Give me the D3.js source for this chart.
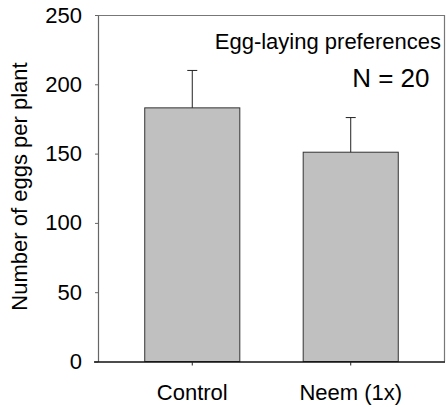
<!DOCTYPE html>
<html>
<head>
<meta charset="utf-8">
<script src="https://cdn.jsdelivr.net/npm/d3@7"></script>
<style>
  body { margin: 0; background: #fff; }
  text { font-family: "Liberation Sans", Arial, sans-serif; fill: #000; }
</style>
</head>
<body>
<svg width="446" height="407"></svg>
<script>
// data
var groups = ["Control", "Neem (1x)"];
var means = [183, 151];
var errors = [27, 25];
var yTicks = [0, 50, 100, 150, 200, 250];

var margin = { top: 15, right: 1, bottom: 45.5, left: 98 },
    width = 446 - margin.left - margin.right,
    height = 407 - margin.top - margin.bottom;

var svg = d3.select("svg")
    .append("g")
    .attr("transform", "translate(" + margin.left + "," + margin.top + ")");

var x = d3.scaleBand()
    .domain(groups)
    .range([0, width])
    .paddingInner(0.4)
    .paddingOuter(0.295);

var y = d3.scaleLinear()
    .domain([0, 250])
    .range([height, 0]);

// frame top + right
svg.append("path")
    .attr("d", "M0,0.5H" + (width - 0.5) + "V" + height)
    .attr("fill", "none")
    .attr("stroke", "#777")
    .attr("stroke-width", 1.2);

// bars
svg.selectAll("rect.bar")
    .data(groups)
    .enter().append("rect")
    .attr("class", "bar")
    .attr("x", function(d) { return x(d); })
    .attr("width", x.bandwidth())
    .attr("y", function(d, i) { return y(means[i]); })
    .attr("height", function(d, i) { return height - y(means[i]); })
    .attr("fill", "#c0c0c0")
    .attr("stroke", "#333")
    .attr("stroke-width", 1);

// error bars (upper only)
var eb = svg.selectAll("g.err")
    .data(groups)
    .enter().append("g")
    .attr("class", "err")
    .attr("transform", function(d) { return "translate(" + (x(d) + x.bandwidth() / 2) + ",0)"; });

eb.append("line")
    .attr("y1", function(d, i) { return y(means[i]); })
    .attr("y2", function(d, i) { return y(means[i] + errors[i]); })
    .attr("stroke", "#222");

eb.append("line")
    .attr("x1", -5).attr("x2", 5)
    .attr("y1", function(d, i) { return y(means[i] + errors[i]); })
    .attr("y2", function(d, i) { return y(means[i] + errors[i]); })
    .attr("stroke", "#222");

// y axis
var yAxis = svg.append("g")
    .call(d3.axisLeft(y).tickValues(yTicks).tickSize(3).tickPadding(13).tickSizeOuter(0));
yAxis.select(".domain").attr("stroke", "#666").attr("stroke-width", 1.2);
yAxis.selectAll(".tick line").attr("stroke", "#666");
yAxis.selectAll("text").attr("font-size", 22).attr("font-family", null);

// x axis
var xAxis = svg.append("g")
    .attr("transform", "translate(0," + height + ")")
    .call(d3.axisBottom(x).tickSize(4).tickPadding(19).tickSizeOuter(0));
xAxis.select(".domain")
    .attr("d", "M-4,0.5H" + width)
    .attr("stroke", "#111")
    .attr("stroke-width", 1.4);
xAxis.selectAll(".tick line").attr("stroke", "#222");
xAxis.selectAll("text").attr("font-size", 22).attr("font-family", null);

// y label
svg.append("text")
    .attr("transform", "translate(" + (27 - margin.left) + "," + (186.5 - margin.top) + ") rotate(-90)")
    .attr("text-anchor", "middle")
    .attr("font-size", 22)
    .text("Number of eggs per plant");

// annotations
svg.append("text")
    .attr("x", 441 - margin.left)
    .attr("y", 48.5 - margin.top)
    .attr("text-anchor", "end")
    .attr("font-size", 22)
    .text("Egg-laying preferences");

svg.append("text")
    .attr("x", 429.5 - margin.left)
    .attr("y", 87 - margin.top)
    .attr("text-anchor", "end")
    .attr("font-size", 26)
    .text("N = 20");
</script>
</body>
</html>
